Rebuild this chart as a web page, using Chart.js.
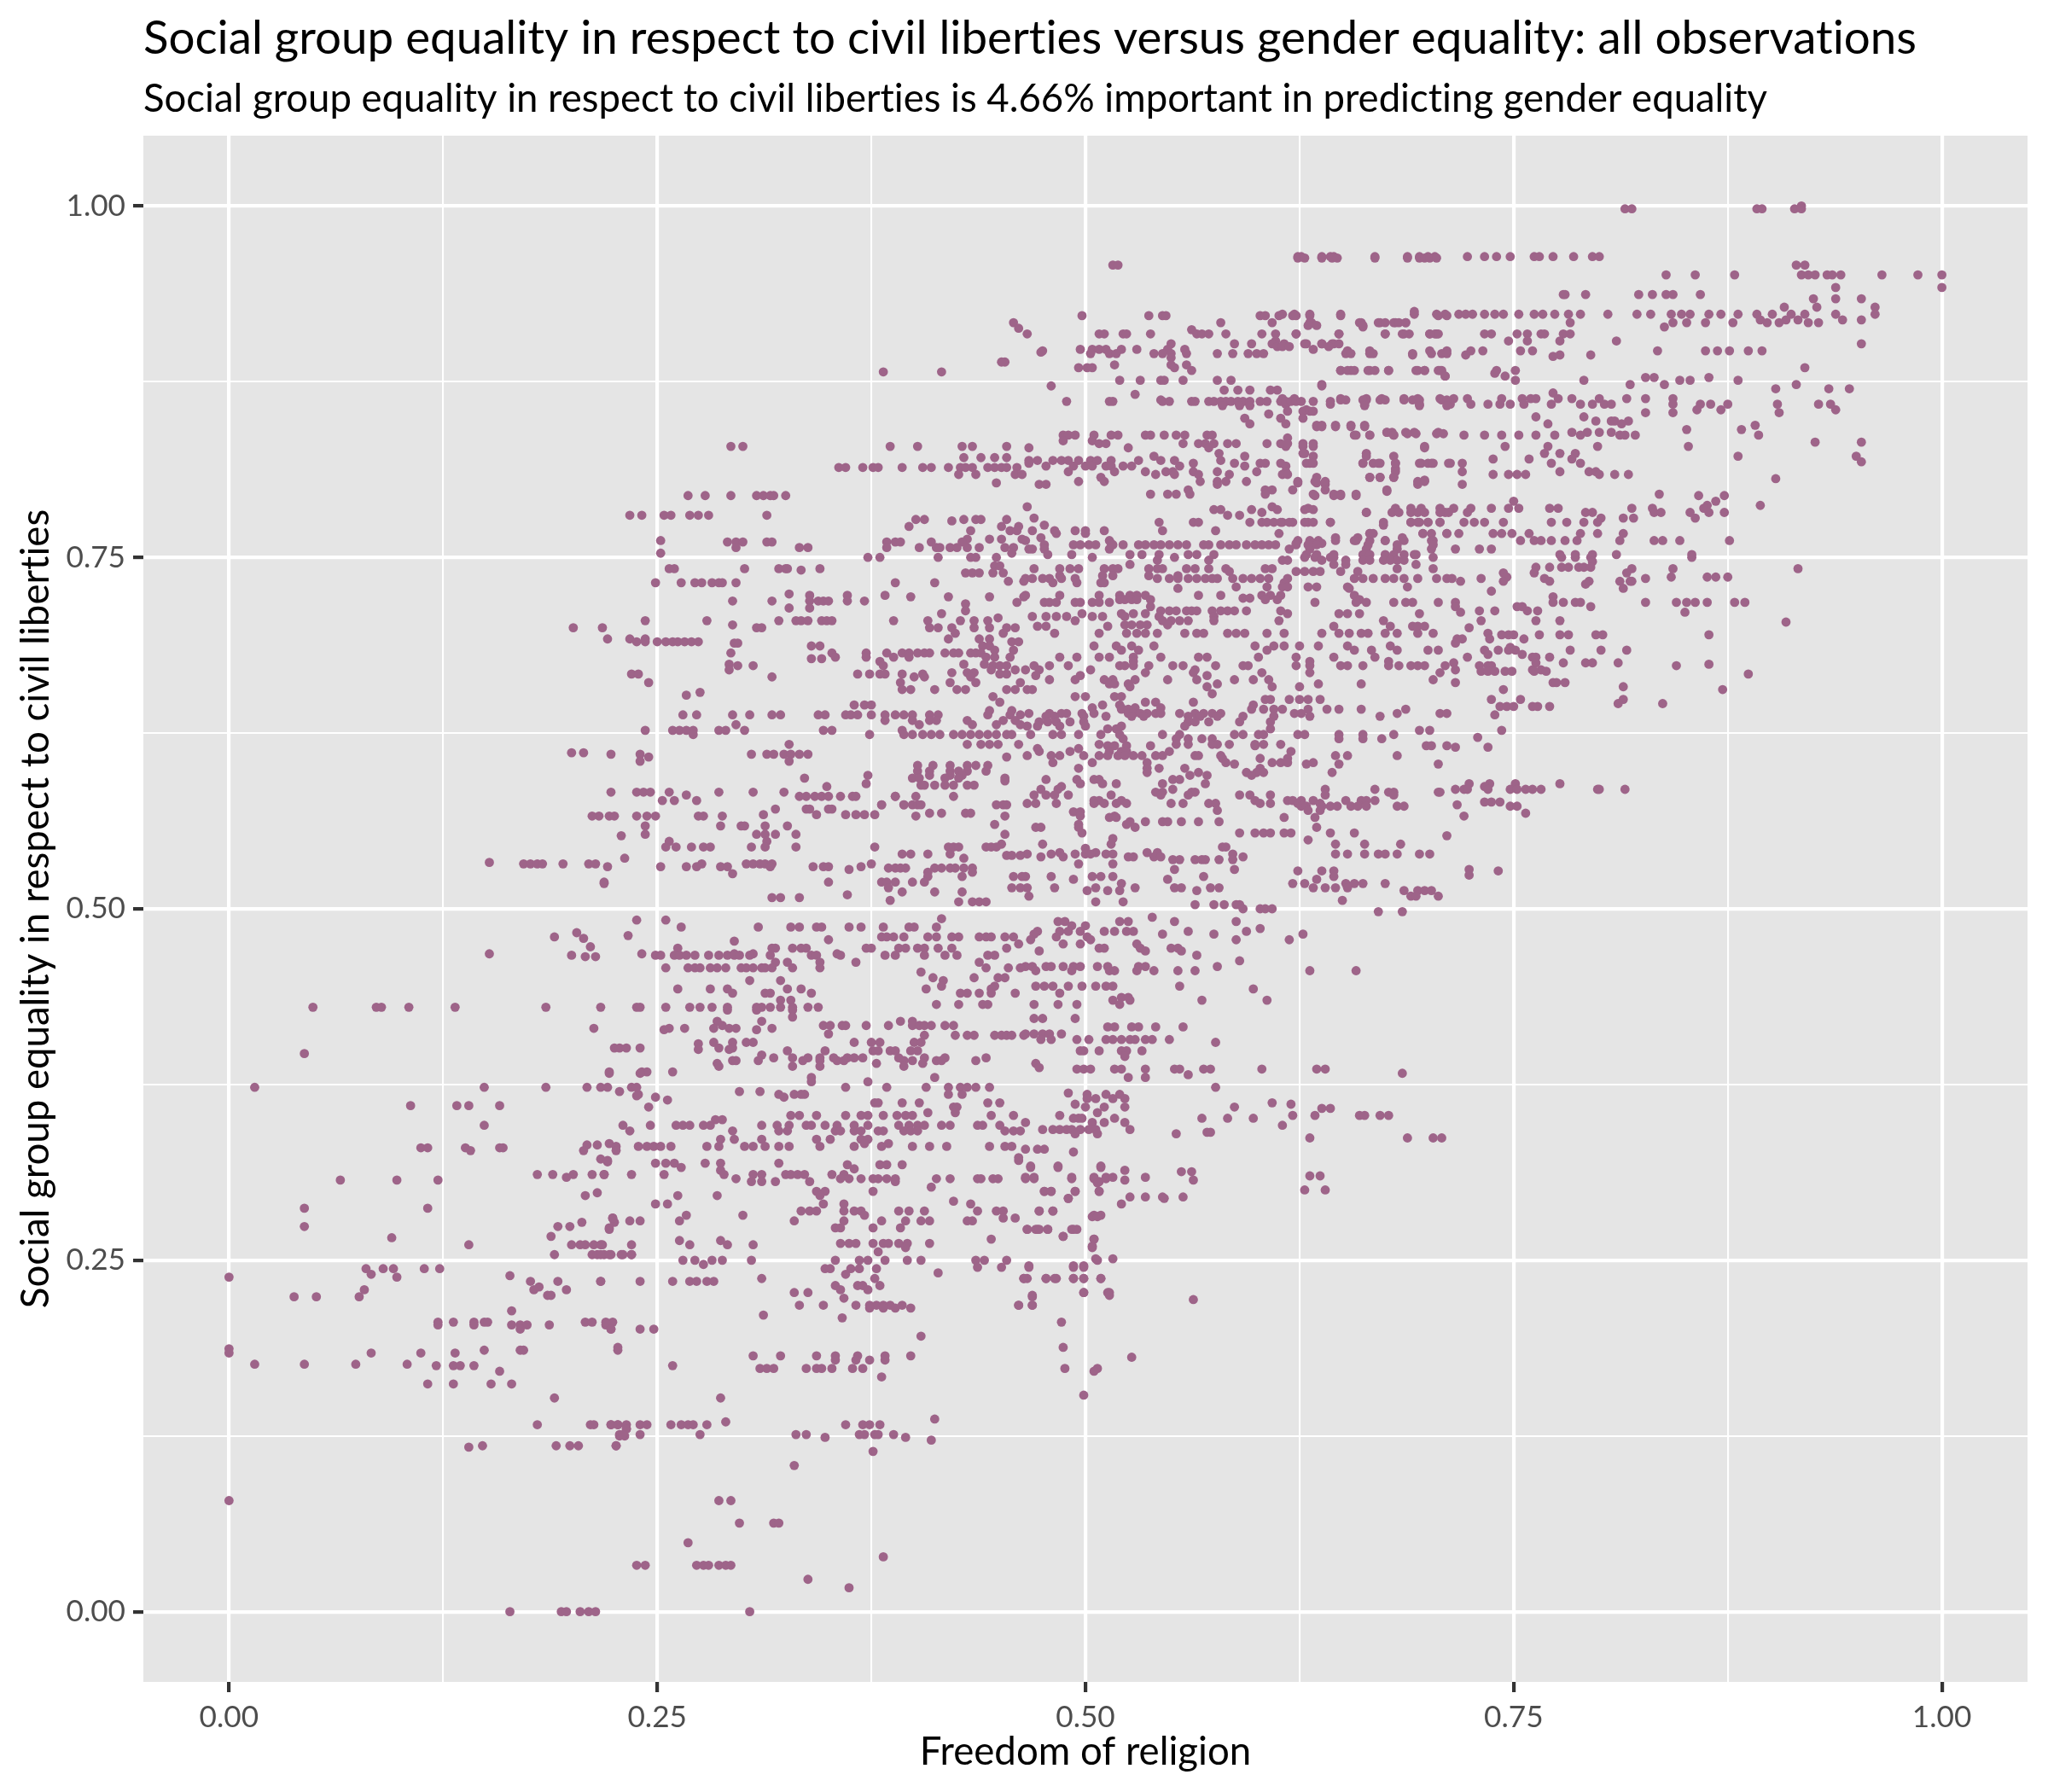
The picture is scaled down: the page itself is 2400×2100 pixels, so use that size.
<!DOCTYPE html>
<html>
<head>
<meta charset="utf-8">
<title>Social group equality</title>
<script src="https://cdn.jsdelivr.net/npm/chart.js@4"></script>
<style>
  html, body { margin: 0; background: #ffffff; }
  canvas { display: block; }
</style>
</head>
<body>
<canvas id="myChart" width="2400" height="2100"></canvas>
<script>
var titleText = 'Social group equality in respect to civil liberties versus gender equality: all observations';
var subtitleText = 'Social group equality in respect to civil liberties is 4.66% important in predicting gender equality';
var xTitle = 'Freedom of religion';
var yTitle = 'Social group equality in respect to civil liberties';

var majorTicks = [0, 0.25, 0.5, 0.75, 1];
var minorTicks = [0.125, 0.375, 0.625, 0.875];
var tickLabels = ['0.00', '0.25', '0.50', '0.75', '1.00'];

// each row: first number is the y value, the rest are the x values read on that row
var rowsTopRight = [
[1,.918],[.998,.815,.819,.892,.895,.914,.918],
[.964,.624,.626,.638,.643,.645,.669,.688,.695,.700,.704,.723,.733,.740,.748,.762,.765,.773,.785,.796,.800],
[.958,.915,.920,.516,.519],[.951,.839,.856,.879,.918,.922,.926,.933,.936,.941,.965,.986,1],[.942,.938,1],
[.937,.779,.780,.792,.823,.831,.839,.843,.859],[.934,.925,.938,.953],[.928,.908,.927,.961],
[.923,.615,.622,.631,.649,.692,.705,.710,.718,.722,.726,.733,.739,.744,.753,.762,.767,.774,.782,.789,.805,.822,.830,.842,.848,.853,.864,.871,.881,.892,.901,.912,.920,.938,.961],
[.919,.894,.916,.909,.942,.953],[.917,.631,.660,.672,.681,.687,.783,.843,.851,.862,.878,.898,.905,.922,.928],[.914,.838,.662],
[.909,.623,.648,.675,.686,.701,.705,.733,.737,.752,.758,.766,.768,.779,.783],[.904,.747,.758,.777,.810],[.902,.616,.629,.638,.645,.953],
[.897,.653,.666,.701,.711,.725,.732,.754,.761,.834,.862,.869,.876,.887,.895],[.894,.691,.722,.777,.795],[.893,.773],[.885,.920],
[.883,.649,.655,.666,.677,.694,.698,.707,.740,.751],[.881,.739],[.879,.710,.745],[.878,.827,.832,.864],[.876,.751,.791,.847,.853,.881],
[.873,.638,.818,.838,.915],[.870,.903,.934,.946],[.867,.773],
[.863,.615,.622,.649,.664,.673,.686,.694,.707,.715,.723,.743,.755,.760,.763,.776,.784,.800,.816,.827,.843],
[.859,.617,.643,.663,.695,.713,.725,.735,.742,.748,.756,.772,.789,.796,.803,.807,.843,.859,.865,.875,.904,.928,.935],
[.855,.629,.871,.857,.938],[.853,.827,.843,.905],[.850,.763,.791],[.847,.798,.807,.817,.809],[.845,.770,.813],
[.844,.635,.638,.646,.655,.663,.891],[.841,.851,.883],[.839,.676,.687,.692,.706,.784,.793,.800,.807],
[.837,.658,.666,.680,.721,.733,.743,.753,.763,.774,.789,.812,.815,.821,.893],[.832,.926,.953],[.829,.617,.627,.633,.698,.745,.770,.799,.852],
[.824,.627,.664,.768,.777,.786],[.822,.881,.950],[.820,.738,.759,.784],[.818,.953],[.817,.631,.662,.671,.681,.696,.702,.713,.720,.772,.789],
[.813,.681],[.811,.720,.794,.798,.777],[.809,.738,.747,.752,.757,.800,.809,.817],[.807,.666,.672,.680],[.806,.903],[.805,.698],[.803,.635,.624],[.802,.640,.694,.720],
[.797,.676],[.795,.835],[.794,.634,.645,.649,.658,.858,.873],[.790,.750,.868],[.787,.863,.894],
[.785,.630,.681,.690,.696,.707,.715,.725,.737,.747,.753,.771,.776,.819,.831,.861],[.782,.664,.710,.723,.792,.796,.832,.836,.853,.864,.873],[.778,.801,.814,.820,.856],
[.775,.615,.621,.630,.643,.674,.690,.695,.700,.707,.721,.727,.733,.744,.772,.781,.791,.799],[.767,.666,.697,.711,.718,.738,.743,.749,.759,.789,.799,.814],
[.762,.624,.631,.636,.646,.658,.666,.675,.686,.702,.754,.762,.766,.772,.780,.787,.812,.832,.837,.847,.876],[.756,.619,.631,.664,.682,.702,.716,.730,.737],
[.752,.629,.635,.645,.662,.666,.675,.680,.686,.692,.777,.786,.796,.810,.854]
];

var rowsUpperMiddle = [
[.963,.624,.628,.638,.644,.647,.669,.688,.695,.698,.701,.705],[.925,.692],
[.922,.498,.537,.545,.547,.602,.605,.613,.621,.623,.631,.649,.706,.711],[.917,.579,.609,.632,.661,.671,.675,.680,.683,.687,.458],[.915,.630,.635,.662],[.913,.461],[.912,.562],
[.909,.466,.508,.511,.522,.524,.538,.565,.568,.572,.582,.603,.611,.623,.648,.675,.685,.689,.701,.704,.706],[.904,.611],
[.902,.550,.587,.597,.609,.628,.638,.644,.648],[.900,.612,.615,.619,.642],[.898,.497,.504,.508,.512,.521,.530,.548,.558,.633],[.897,.475],[.896,.474],
[.895,.503,.514,.518,.540,.545,.550,.559,.577,.586,.595,.600,.604,.652,.655,.666,.668,.691,.702,.708,.711],[.892,.550],[.889,.453,.451],[.887,.517,.550,.559],[.885,.496,.501,.504,.552],
[.883,.562,.649,.653,.657,.665,.669,.677,.693,.698,.706,.708],[.882,.382,.416],[.879,.710],[.876,.520,.532,.544,.546,.557,.577,.585],[.872,.480,.638],[.869,.581,.589,.596,.612,.608],[.866,.529],
[.862,.544,.649,.652,.664,.662,.672,.675,.686,.691,.695,.708,.711],
[.861,.489,.514,.516,.545,.549,.562,.564,.572,.575,.579,.582,.585,.589,.592,.596,.602,.606,.614,.617,.620,.623,.626,.633,.643],
[.858,.580,.590,.596,.663,.695,.711],[.854,.618,.627,.631,.633],[.852,.607],[.849,.593,.614,.627],[.845,.596,.617],[.843,.635,.638,.646,.655,.663],[.839,.676,.679],[.838,.688,.693,.705,.709],
[.837,.487,.490,.494,.505,.515,.519,.535,.538,.546,.553,.558,.571,.574,.657,.666,.680],[.835,.618],[.833,.487,.504],
[.831,.508,.512,.557,.566,.570,.575,.583,.588,.606,.614,.618,.627,.633],[.828,.467,.525,.572,.698],[.824,.578,.628],[.822,.540,.593,.633,.664,.680],
[.819,.467,.472,.481,.486,.490,.496,.503,.507,.515,.531,.544,.552,.579],[.817,.467,.563,.587,.602,.605,.614,.629,.633,.662,.668,.672,.681,.695,.700,.703,.712],
[.815,.477,.493,.500,.504,.512,.515,.522,.527,.555,.593,.617],[.811,.490,.517,.535,.547,.551,.563,.577,.617,.600,.681],[.809,.541,.552,.566,.584,.615,.618],[.807,.509,.635,.666,.672,.680],
[.804,.496,.511,.567,.577,.582,.594,.624,.634,.640,.694,.698],[.802,.473,.477,.577],[.798,.605,.609,.621,.640,.676,.560],[.795,.538,.548,.553,.561,.605,.633,.645,.649,.658],
[.786,.466,.609],[.784,.575,.579,.612,.628,.633,.597],[.782,.603,.664,.679,.683,.690,.694,.698,.707,.712],[.780,.583,.590],[.778,.470],
[.775,.543,.563,.566,.596,.603,.606,.610,.614,.619,.628,.633,.643,.690,.694,.700,.707],[.773,.476,.674],[.769,.469,.482,.494,.500,.511,.545,.576],[.767,.483,.500,.613,.666,.668,.697,.702,.711],
[.764,.474,.646,.659,.685],[.762,.465,.514,.675,.657,.703],[.760,.515,.623,.633,.638],
[.759,.476,.493,.497,.502,.506,.516,.522,.531,.535,.540,.544,.549,.554,.559,.569,.572,.579,.584,.588,.594,.599,.603,.607,.611,.623,.630,.635,.665,.682,.703],
[.756,.467,.469,.476,.514],[.752,.478,.492,.526,.533,.543,.560,.565,.575,.693],[.750,.504,.552,.628,.634,.643,.645,.703],[.748,.542,.572,.615,.618,.638,.652,.662,.666,.674,.678,.682,.686],[.745,.526,.645,.693,.652],
[.742,.470,.485,.491,.496,.511,.516,.519,.537,.542,.545,.559,.564,.572,.582,.605,.609,.682,.703],[.740,.584,.623,.628,.633,.637,.649,.659],[.737,.485,.510,.516,.537,.554],
[.735,.465,.469,.475,.479,.486,.494,.542,.549,.554,.560,.565,.570,.574,.577,.586,.592,.597,.602,.607,.618,.657,.662,.668,.675,.680,.686,.694,.705,.711],
[.732,.481,.495,.509,.511,.616],[.729,.606,.615,.618,.630,.635,.653,.688,.588],[.728,.554,.654],[.723,.485,.465,.508,.520,.526,.530,.535,.566,.579,.603,.608,.614,.657],[.721,.592,.596],
[.720,.520,.523,.527,.530,.538,.612,.605,.660],[.718,.476,.479,.483,.494,.497,.504,.508,.514,.634,.658,.664,.680,.687,.691,.706],[.715,.538],
[.712,.544,.549,.553,.559,.562,.565,.574,.579,.583,.587,.594,.614],[.710,.498,.521,.528,.535,.618,.648,.653,.660,.695],[.708,.469,.477,.483,.489,.504,.510,.523,.543,.575],
[.705,.494,.545,.550,.555,.560,.575,.613,.674],[.702,.523,.527,.532,.536,.548],[.701,.472,.477,.513,.645,.678,.691,.694,.698],
[.696,.482,.508,.524,.530,.535,.542,.558,.565,.569,.583,.588,.593,.606,.616,.638,.648,.654,.661,.665,.675,.682,.694,.703]
];

var rowsCentre = [
[.687,.505,.518,.527,.540,.599,.610,.616,.625,.636,.653,.678],[.684,.521,.531,.606,.657,.667,.682,.700,.706],
[.679,.485,.495,.508,.514,.528,.544,.566,.571,.601,.623,.645,.669],[.676,.631,.677,.528],
[.673,.470,.479,.490,.520,.523,.528,.537,.551,.557,.576,.592,.595,.623,.631,.649,.653,.662,.677,.683,.690,.694,.698,.710],[.670,.465,.473,.503,.564],[.668,.535,.563,.603,.631,.707],[.666,.471,.497,.571],
[.663,.479,.494,.511,.516,.529,.548,.565,.587,.598,.607,.703],[.660,.514,.517,.525,.577,.661,.636],[.658,.571,.526,.625,.609],[.656,.466,.469],[.653,.574],[.651,.494,.500,.517,.521],
[.649,.605,.608,.619,.625,.630,.637],[.647,.563,.541,.535],[.645,.510,.520,.598],[.643,.504,.521,.529,.544],[.642,.521,.525,.597,.604,.610,.615,.630,.641,.648,.661,.687],
[.639,.467,.479,.486,.489,.498,.505,.525,.528,.532,.536,.541,.544,.555,.564,.569,.574,.579,.622,.626,.682,.707,.711],[.637,.477,.482,.499,.512,.527,.534,.560,.567,.577,.592,.610,.631,.672],
[.633,.473,.478,.483,.491,.499,.560,.572,.564,.590,.608],[.630,.466,.472,.485,.500,.521,.558],[.628,.513,.518,.608],[.627,.701,.695],[.624,.468,.481,.486,.496,.509,.520,.545,.555,.587,.592,.601,.604,.624,.628,.648,.662,.680],
[.621,.522,.553,.560,.568,.574,.662,.648,.673],[.617,.508,.553,.560,.574,.577,.584,.599,.604,.614],[.616,.513,.517,.524,.538,.599,.699,.702,.711],[.614,.472,.496],[.612,.473,.491,.514,.521,.524,.549,.620],
[.609,.466,.480,.485,.499,.508,.513,.519,.523,.528,.533,.541,.545,.564,.566,.579,.646,.653,.682],[.607,.580,.602,.618],[.604,.481,.504,.536,.582,.609,.614,.618,.633],[.603,.587,.629,.648,.706],
[.600,.496,.536,.543,.558,.602],[.597,.536,.566,.594,.600,.604,.644],[.595,.561,.571,.597],[.592,.477,.495,.505,.508,.551,.555],[.589,.497,.510,.518,.545,.570],[.587,.486],[.585,.474,.484,.551,.640,.669],
[.583,.541,.545,.562,.564,.677,.680,.706,.707],[.581,.470,.477,.482,.490,.515,.544,.560,.590,.596,.608,.640,.680],[.577,.505,.508,.521,.599,.618,.621,.626,.633,.652,.661,.664,.669],
[.575,.466,.471,.483,.505,.511,.518,.524,.550,.557,.572,.576,.602,.608,.624,.637],[.573,.626,.629,.638,.643,.647,.655,.659,.664,.682,.686],[.570,.577,.630,.637],[.569,.493,.497],[.566,.497,.517],[.565,.514,.518,.634,.616],
[.562,.526,.535,.545,.548,.556,.566,.578],[.560,.496,.524],[.558,.471,.474,.496,.529,.635],[.554,.498,.590,.599,.604,.608,.616,.620,.643,.657],[.552,.711],[.550,.516],[.549,.630],[.546,.515,.475,.646,.663,.684],[.544,.580,.582],[.543,.500],
[.540,.485,.506,.536,.542],[.539,.466,.480,.494,.500,.503,.512,.516,.646,.653,.663,.671,.675,.682,.695,.701,.586],[.537,.474,.487,.525,.528,.540,.544,.592],[.535,.551,.555,.564,.568,.570,.578,.586],[.532,.496,.516],
[.528,.552,.587],[.527,.624,.638,.645],[.523,.465,.480,.504,.509,.516,.569,.645],[.521,.493,.548,.635],[.518,.521,.621,.628,.652,.657,.662,.675],[.515,.466,.482,.506,.529,.552,.556,.573,.578,.633,.640,.646,.653],
[.513,.501,.513,.520,.565,.686,.694,.698,.702],[.509,.467,.690,.693,.706],[.506,.650],[.505,.506,.522],[.503,.564,.575,.581,.588,.590],[.500,.592,.602,.605,.609],[.498,.671,.685],[.494,.539],
[.491,.484,.488,.520,.525,.552,.588],[.488,.492,.500],[.486,.602],[.484,.472,.485,.490,.497,.511,.517,.524,.528,.560,.594],[.482,.470,.627,.545,.575],[.480,.483,.501],[.478,.468,.503,.588,.619],
[.475,.487,.497,.530],[.472,.508,.511,.532,.550,.554],[.470,.473,.535,.556],[.467,.565],[.463,.590],[.459,.465,.469,.477,.480,.487,.493,.497,.507,.513,.531,.535,.577],[.456,.471,.492,.514,.517,.530,.540,.564,.554,.631,.658],
[.445,.471,.476,.481,.490,.498,.506,.512,.516,.555],[.443,.598],[.440,.485],[.437,.521,.525],[.435,.516,.526,.568,.606],[.432,.470,.484,.495,.520],[.422,.470,.475,.494]
];

var rowsCentreLeftGap = [
[.598,.402,.409,.421,.426,.431,.442],[.595,.409,.421,.428],[.593,.399,.403,.418,.426,.453],[.591,.453],[.588,.404,.406,.412,.418,.423,.431,.435],[.580,.389,.401,.423],
[.574,.381,.394,.399,.402,.404,.448,.452,.454],[.568,.409,.416,.430,.433],[.566,.401,.453],[.560,.447],[.553,.453],[.546,.451],[.544,.377,.420,.423,.426,.442,.445,.448],
[.539,.393,.398,.408,.421],[.538,.454,.457,.462],[.536,.429],[.529,.385,.389,.392,.395,.412,.416,.421,.424,.429,.434],[.526,.408,.434],[.523,.458,.463,.408,.428],
[.519,.381,.384,.389,.399,.406],[.515,.385,.457,.462],[.512,.393,.412,.428],[.506,.386],[.505,.426,.434,.438,.442]
];

var rowsRightSide = [
[.750,.778,.786,.795,.854],[.747,.796],[.743,.763,.771,.778,.782,.788,.791,.795],[.742,.819,.843,.916],[.739,.744,.762,.816],[.736,.746,.842,.863,.868,.875],[.735,.714,.731,.768,.827],
[.733,.719,.744,.771,.812,.818,.819,.794],[.731,.792],[.728,.814],[.726,.737],[.722,.773],[.718,.716,.773,.779,.786,.789,.827,.845,.851,.856,.863,.879,.885],[.715,.752,.755,.716,.795],
[.712,.730,.739,.758,.764],[.711,.719,.850],[.705,.731,.763,.777],[.704,.909],[.700,.724],[.696,.735],[.695,.743,.747,.750,.765,.777,.782,.798,.802,.864],[.692,.717,.720,.736,.756],[.689,.716],[.686,.748],
[.684,.733,.741,.747,.751,.783,.801,.816],[.681,.735,.755],[.679,.723,.761,.763,.771],[.675,.715,.763,.779,.792,.796,.811],[.674,.864],[.673,.730,.735,.737,.845],[.670,.716,.761,.766],[.669,.731,.735,.739,.745,.749,.762,.769],
[.667,.887],[.661,.716,.773,.775,.780],[.658,.814],[.656,.872,.744],[.649,.737,.754,.814],[.646,.811,.837],[.644,.742,.746,.750,.761,.764,.771],[.638,.739],[.627,.743],[.622,.729],[.615,.716,.735],
[.589,.777,.724,.736,.751],[.587,.733],[.585,.716,.721,.723,.735,.748,.752,.757,.761,.766,.799,.800,.815],[.576,.733,.737,.742],[.574,.717],[.573,.748,.752],[.568,.757],[.566,.721],[.528,.724],[.527,.741],[.524,.724]
];

var rowsUpperLeft = [
[.829,.293,.300,.386,.402,.428,.434,.454],[.821,.429,.439,.447,.454],[.814,.356,.360,.370,.376,.379,.393,.405,.410,.420,.427,.430,.434,.443,.447,.451,.454,.460],[.809,.426,.436,.459,.463],[.803,.448],
[.794,.268,.278,.293,.308,.312,.316,.318,.325],[.780,.234,.241,.254,.258,.269,.274,.280,.314],[.777,.401,.406,.429,.436,.439,.454],[.776,.422],[.772,.397,.451,.461],[.769,.433,.456,.460],[.763,.431,.444,.451,.463],[.762,.252],
[.761,.291,.296,.300,.314,.317,.384,.389,.392,.410,.428],[.757,.296,.333,.338,.384,.403,.413,.415,.421,.425,.431,.438,.453,.458],[.753,.252,.457],[.750,.373,.380,.414,.433,.436,.448],[.744,.447,.450],
[.742,.257,.260,.301,.321,.325,.326,.345],[.741,.334],[.739,.430,.434,.438,.446,.452],[.733,.455,.464],[.732,.249,.264,.272,.276,.282,.286,.288,.296,.389,.412],[.724,.327],[.723,.339,.361,.383],[.722,.398,.420,.444,.464],
[.719,.294,.317,.339,.344,.347,.350,.361,.371],[.718,.460],[.717,.430],[.714,.327,.339],[.712,.430],[.710,.416],[.707,.449],[.705,.243,.279,.321,.331,.334,.338,.346,.349,.352,.388,.408,.427,.435,.443],[.702,.294],
[.700,.201,.218,.308,.311,.409,.414,.422,.435,.444,.454,.459],[.696,.424,.452],[.692,.221,.234,.243,.420,.438,.444],[.690,.238,.243,.250,.255,.259,.262,.266,.270,.274,.457,.461],[.689,.295,.297],[.687,.340,.345,.440,.444],[.684,.447,.458],
[.682,.293,.352,.372,.384,.393,.397,.402,.406,.409,.418,.423,.426,.433,.436,.439],[.679,.354,.372,.388,.397,.442,.447,.456],[.678,.340,.346],[.676,.380],[.674,.292,.429,.441],[.673,.297,.306,.382,.446,.450,.454],
[.670,.292,.445,.459],[.668,.422,.431,.435],[.667,.235,.239,.367,.374,.380,.383,.393,.405,.450,.454],[.665,.317,.400,.406,.433],[.661,.245,.392,.421,.436,.462],[.656,.393,.398,.412,.425,.430,.454,.459],[.654,.275],[.652,.267],[.651,.446],[.647,.450],[.645,.365,.371,.375],[.641,.457,.444],
[.638,.265,.273,.294,.304,.317,.322,.344,.348,.360,.363,.367,.375,.383,.389,.394,.399,.409,.414,.443,.456,.462],[.634,.383,.399,.409,.413,.431,.452,.459],[.631,.296,.403,.434,.448,.462],[.627,.243,.259,.263,.267,.271,.286,.290,.301,.347,.352,.393],
[.624,.271,.374,.394,.399,.405,.410,.415,.423,.428,.433,.438,.443,.448,.454,.457],[.617,.327,.431,.439,.444,.449,.461],[.611,.200,.207],[.610,.223,.240,.305,.314,.318,.324,.328,.333,.338],[.608,.245,.454],[.605,.240,.327],[.602,.402,.411,.421,.431,.436,.443],
[.595,.373],[.593,.336],[.589,.372],[.587,.349],[.583,.223,.238,.242,.246,.257,.286,.306,.324],[.581,.267],[.580,.333,.337,.342,.346,.350,.357,.364,.366,.389],[.577,.253,.260,.273],[.574,.381,.394],[.571,.319,.337,.339,.350,.352],
[.567,.312,.343,.360,.366,.371,.377],[.566,.216,.222,.225,.238,.244,.249,.274,.277,.288,.212],[.559,.243,.287,.299,.301,.313,.326],[.553,.243,.308,.313,.319,.331],[.552,.229],[.548,.257,.314],[.544,.255,.261,.270,.277,.281,.305,.313,.331],[.536,.231],
[.533,.152],[.532,.276,.302,.306,.310,.313,.317,.375,.172,.176,.180,.183,.195,.210,.214],[.530,.221,.252,.267,.273,.287,.291,.316,.341,.347,.350,.369],[.528,.362],[.525,.294],[.519,.350,.219],[.518,.219],[.510,.361],[.508,.317,.322,.333]
];

var rowsMiddleLeft = [
[.493,.416],[.492,.238,.255],[.487,.264,.309,.328,.333,.343,.346,.362,.369,.382,.397,.400,.413],[.483,.203],[.481,.233],[.480,.381,.384,.388,.394,.408,.413,.422,.426,.438,.442,.445,.453,.458,.190],[.479,.207],[.478,.350],[.477,.295],[.475,.461],
[.473,.211],[.472,.262,.317,.319,.329,.334,.337,.372,.375,.391,.395,.402,.406,.414,.422,.454],[.468,.241,.295,.306,.355,.152],[.467,.249,.252,.260,.263,.267,.272,.280,.286,.291,.295,.298,.304,.316,.340,.343,.357,.383,.389,.406,.418,.425,.443,.447,.200],
[.466,.208,.214],[.462,.319,.326,.345,.366,.438],[.458,.255,.268,.272,.275,.281,.285,.290,.299,.302,.306,.311,.313,.317,.329,.345,.442,.455,.462],[.455,.404],[.451,.411,.435,.449,.453],[.449,.304,.322,.417],[.445,.416,.447],
[.443,.262,.281,.291,.326,.334,.407,.445],[.440,.294,.313,.316,.340,.427,.431,.438,.445,.459],[.435,.322,.328],[.432,.413,.426,.440,.443],[.430,.217,.238,.240,.255,.269,.275,.282,.291,.308,.311,.316,.322,.329,.338,.344,.049,.086,.089,.105,.132,.185],
[.428,.291,.308,.329],[.423,.329],[.420,.285,.311,.392,.399],[.417,.288,.347,.351,.358,.360,.372,.385,.399,.403,.406,.410,.418,.423],[.415,.257,.266,.283,.292,.296,.317,.213],[.414,.254,.308],[.411,.350],
[.410,.406,.424,.431,.435,.447,.451,.454,.457,.464],[.405,.283,.294,.302,.306,.365,.375,.380,.400,.404],[.404,.274],[.401,.225,.228,.232,.240,.286,.294],[.400,.274,.292],[.399,.326,.348,.376,.379,.386,.389,.398,.402],[.397,.044],[.396,.311],
[.394,.318,.329,.338,.345,.353,.361,.365,.370,.391,.406,.418,.442],[.392,.294,.296,.309,.335,.345,.355,.359,.394,.399,.413,.416,.436],[.390,.285,.378,.405],[.388,.286,.329,.345,.394],[.384,.222,.241,.244,.259],[.383,.222,.240],[.380,.412,.340],
[.377,.340,.373],[.373,.217,.221,.235,.238,.360,.384,.407,.420,.427,.431,.436,.444,.015,.149,.185,.209],[.370,.228,.298,.310],[.368,.239,.321,.330,.334,.336,.420,.428],[.367,.238],[.366,.249,.324],[.364,.256],[.362,.377,.379,.393,.403,.443,.450],
[.360,.106,.133,.140,.158],[.359,.245,.423,.425],[.355,.408,.424],[.353,.328,.333,.343,.360,.369,.373,.382,.390,.395,.399,.445,.458],[.350,.284,.288],
[.346,.230,.246,.261,.265,.269,.277,.281,.311,.320,.327,.337,.340,.348,.355,.365,.373,.391,.397,.402,.406,.416,.421,.437,.440,.450,.149],[.342,.234,.294,.321,.326,.354,.357,.365,.369,.379,.382,.394,.398,.402,.453,.458,.462],
[.336,.287,.295,.311,.343,.351,.369,.373],[.333,.222,.385,.371],[.332,.209,.215],[.331,.226,.239,.244,.248,.252,.258,.279,.286,.301,.306,.313,.321,.327,.345,.365,.381,.399,.409,.419,.444,.453,.457],
[.330,.112,.116,.138,.158,.160],[.328,.141,.207,.226],[.322,.217],[.320,.221],[.311,.180,.189,.201,.212,.219],[.309,.197],[.307,.065,.098,.122],[.298,.215],[.296,.208],[.287,.044,.116],[.280,.224],[.277,.206,.225],[.274,.044,.192,.199],[.272,.222],[.267,.188],[.266,.095],
[.261,.140,.200,.205,.208,.213,.218],[.254,.190,.212,.215,.219,.223,.229,.235],[.244,.080,.090,.096,.114,.123],[.240,.083],[.239,.164],[.238,0,.098],[.235,.176,.192,.217],[.231,.181],[.229,.079,.178,.197],[.225,.186,.188],[.224,.038,.051,.076],[.214,.165],
[.206,.122,.131,.143,.149,.151,.208,.212],[.204,.122,.143,.165,.170,.174,.187,.220],[.201,.170,.223],[.187,0],[.186,.149,.170,.172,.227],[.184,0,.083,.112,.132],[.176,.015,.044,.074,.104],[.175,.121,.131,.135,.143],[.171,.158],[.162,.116,.131,.153,.165],[.152,.190],
[.133,.180,.211,.213,.223,.227],[.130,.232],[.125,.228,.231],[.118,.148,.191,.199,.204,.226],[.117,.140],[.079,0]
];

var rowsLower = [
[.321,.221,.461],[.319,.249,.255,.260,.278,.287,.321],[.318,.361,.380,.384,.393],[.316,.264,.468,.484,.509],[.315,.365],[.314,.287],[.311,.219,.235,.254,.289,.306,.311,.325,.328,.332,.336,.352,.359],
[.308,.296,.357,.362,.369,.376,.379,.384,.389,.413,.421,.437,.439,.446,.449,.465,.470,.492,.505,.512],[.306,.305,.311,.319,.339,.389,.508],[.302,.410],[.299,.343,.348,.376,.494,.476,.480,.508],[.296,.262,.285,.345],[.294,.490],[.292,.423],[.290,.249,.256,.347,.359,.433],
[.285,.334,.339,.343,.359,.365,.369,.391,.397,.406,.437,.448,.452,.473,.481],[.282,.267,.300,.371,.505,.509],[.280,.452,.459,.224],[.278,.234,.240,.263,.330,.359,.381,.395,.404,.409,.431,.434],[.273,.222,.354,.357,.376,.392],[.272,.466,.472,.478,.493],[.267,.487],[.265,.445,.505],[.264,.263,.287],
[.262,.357,.362,.366,.376,.382,.385,.391,.396,.409],[.261,.217,.235,.269,.291,.306],[.259,.395,.504],[.256,.379],[.254,.217,.222,.230,.235],[.250,.265,.272,.282,.288,.305,.354,.368,.373,.383,.396,.404,.436,.441,.454,.507],[.247,.277],[.245,.437,.451,.467,.493,.499],
[.244,.348,.351,.363,.368,.378],[.241,.414],[.240,.360],[.237,.311,.377,.464,.466,.477,.483,.493,.499,.509],[.235,.217,.240,.259,.269,.273,.279,.283],[.232,.354,.367,.370,.380],[.229,.357,.373],[.227,.330,.338,.499,.513],[.224,.469],[.223,.359],
[.218,.333,.347,.366,.374,.378,.382,.386,.393,.461,.469],[.216,.374,.382,.389,.398],[.211,.312],[.209,.358],[.206,.224,.220,.486],[.201,.223,.240,.248],[.196,.404],[.188,.227,.487],[.182,.306,.322,.343,.354,.367,.383,.398],[.181,.527],[.179,.354,.366,.374,.383],[.175,.259],
[.173,.310,.314,.318,.337,.343,.346,.352,.364,.370,.488,.507],[.171,.505],[.167,.381],[.154,.499],[.152,.287],[.137,.412],[.135,.290],[.133,.223,.227,.232,.240,.244,.258,.264,.268,.271,.279,.360,.370,.374,.380],[.130,.232],[.126,.228,.230,.240,.275,.331,.337,.368,.371,.377,.379,.388],
[.124,.348,.395],[.122,.410],[.118,.226],[.114,.376],[.104,.330],[.079,.286,.293],[.063,.298,.318,.321],[.049,.268],[.039,.382],[.033,.238,.243,.273,.277,.280,.286,.290,.293],[.023,.338],[.017,.362],[0,.164,.194,.197,.205,.210,.214,.304]
];

var rowsBottomRight = [
[.416,.513,.517,.527,.531,.541,.557],[.411,.465,.470,.475,.479,.486],[.407,.474,.480,.495,.502,.512,.516,.521,.526,.529,.535,.539,.549],[.405,.576],[.399,.497,.499,.508,.521,.524,.533],[.395,.523],[.390,.471],[.387,.473],
[.386,.495,.499,.503,.517,.521,.535,.552,.555,.569,.573,.603,.635,.640],[.383,.685],[.382,.560],[.380,.525,.535],[.373,.576],[.369,.490],[.368,.501,.512,.520],[.365,.501,.506,.516,.523],[.362,.609],[.361,.494,.620],[.359,.500,.511,.523,.587],[.358,.638,.643],[.355,.507],
[.353,.485,.621,.634,.660,.663,.672,.677],[.351,.493,.496,.498,.517,.568,.583,.598],[.348,.465,.504,.523,.511],[.346,.615],[.343,.475,.481,.485,.489,.492,.497,.502,.506,.526],[.341,.571,.573],[.340,.494,.507,.553],[.337,.631,.688,.703,.708],[.329,.465,.472,.476],[.327,.493],[.323,.461],
[.317,.468,.484,.509],[.314,.523],[.313,.556,.562],[.310,.631,.637],[.309,.465,.470,.492,.505,.512,.516,.535],[.307,.523,.563],[.305,.507],[.300,.628,.640],[.299,.494,.476,.480,.508],[.295,.526,.535,.545,.557],[.294,.490,.546],[.290,.521],[.285,.473,.481],[.281,.504,.507],
[.272,.466,.471,.473,.478,.492,.495],[.267,.487],[.265,.505],[.260,.504],[.251,.506,.516],[.246,.467,.493,.499],[.237,.464,.477,.482,.493,.499,.509],[.227,.499,.514],[.225,.469,.514],[.222,.563],[.218,.461,.469]
];

var allRows = [rowsTopRight, rowsUpperMiddle, rowsCentre, rowsCentreLeftGap, rowsRightSide, rowsUpperLeft, rowsMiddleLeft, rowsLower, rowsBottomRight];

var points = [];
for (var i = 0; i < allRows.length; i++) {
  for (var j = 0; j < allRows[i].length; j++) {
    var row = allRows[i][j];
    for (var k = 1; k < row.length; k++) {
      points.push({x: row[k], y: row[0]});
    }
  }
}

function isMajor(value) {
  return majorTicks.indexOf(value) !== -1;
}

function setGridTicks(axis) {
  axis.ticks = majorTicks.concat(minorTicks).sort(function(a, b) { return a - b; }).map(function(v) {
    return {value: v};
  });
}

function tickLabel(value) {
  var pos = majorTicks.indexOf(value);
  return pos === -1 ? '' : tickLabels[pos];
}

function axisOptions(titleText, titlePadding) {
  return {
    type: 'linear',
    min: -0.05,
    max: 1.05,
    afterBuildTicks: setGridTicks,
    border: {display: false},
    grid: {
      color: '#ffffff',
      lineWidth: function(ctx) { return isMajor(ctx.tick.value) ? 4.2 : 2.1; },
      tickColor: '#333333',
      tickLength: 12,
      tickWidth: function(ctx) { return isMajor(ctx.tick.value) ? 4.2 : 0; }
    },
    ticks: {
      autoSkip: false,
      maxRotation: 0,
      minRotation: 0,
      padding: 9,
      color: '#4D4D4D',
      font: {family: 'Lato', size: 35.2},
      callback: tickLabel
    },
    title: {
      display: true,
      text: titleText,
      color: '#000000',
      font: {family: 'Lato', size: 45.6},
      padding: titlePadding
    }
  };
}

var panelBackground = {
  id: 'panelBackground',
  beforeDraw: function(chart) {
    var a = chart.chartArea;
    chart.ctx.save();
    chart.ctx.fillStyle = '#E5E5E5';
    chart.ctx.fillRect(a.left, a.top, a.right - a.left, a.bottom - a.top);
    chart.ctx.restore();
    // the reference text has no ligatures or kerning, and resizing the canvas clears this setting
    chart.ctx.textRendering = 'optimizeSpeed';
  }
};

var xAxis = axisOptions(xTitle, {top: 0, bottom: 19});
xAxis.afterFit = function(axis) { axis.height = 129; };
var yAxis = axisOptions(yTitle, {top: 15, bottom: 0});
yAxis.afterFit = function(axis) { axis.width = 168; };

var ctx = document.getElementById('myChart').getContext('2d');

var chart = new Chart(ctx, {
  type: 'scatter',
  data: {
    datasets: [{
      label: 'observations',
      data: points,
      showLine: false,
      pointRadius: 5.4,
      pointHoverRadius: 5.4,
      pointBorderWidth: 0,
      pointBackgroundColor: '#9E6489'
    }]
  },
  options: {
    responsive: false,
    animation: false,
    layout: {padding: {top: 0, right: 24, bottom: 0, left: 0}},
    plugins: {
      legend: {display: false},
      tooltip: {enabled: false},
      title: {
        display: true,
        text: titleText,
        align: 'start',
        fullSize: false,
        color: '#000000',
        font: {family: 'Lato', size: 54.7, weight: 'normal'},
        padding: {top: 13, bottom: 10}
      },
      subtitle: {
        display: true,
        text: subtitleText,
        align: 'start',
        fullSize: false,
        color: '#000000',
        font: {family: 'Lato', size: 45.5, weight: 'normal'},
        padding: {top: 0, bottom: 15.8}
      }
    },
    scales: {x: xAxis, y: yAxis}
  },
  plugins: [panelBackground]
});
</script>
</body>
</html>
